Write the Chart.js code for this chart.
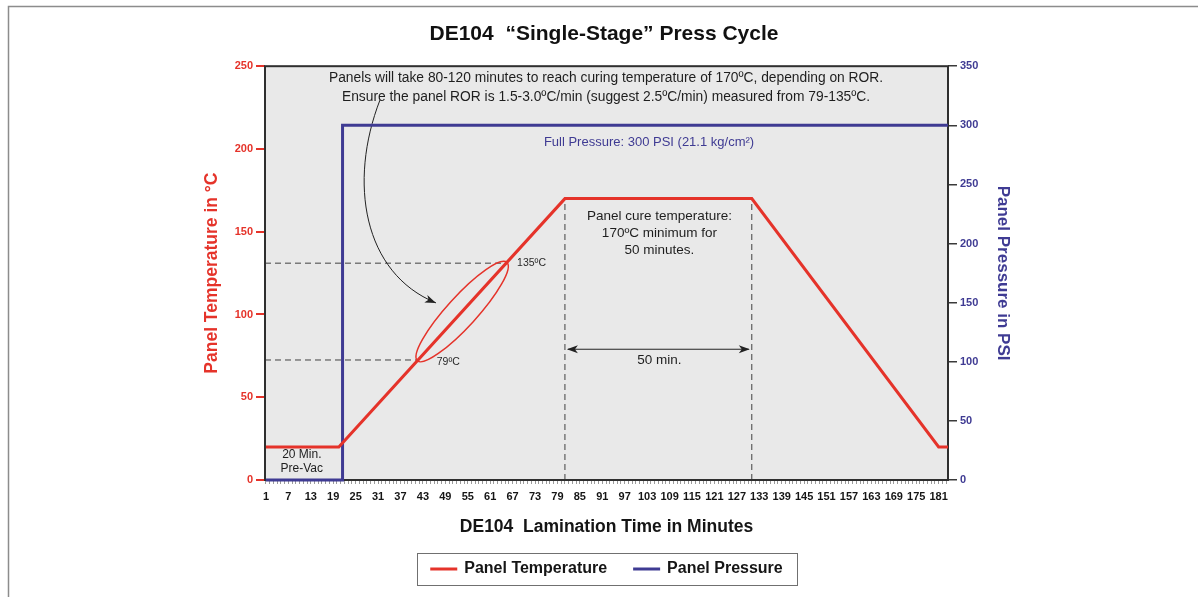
<!DOCTYPE html>
<html>
<head>
<meta charset="utf-8">
<script src="https://cdn.jsdelivr.net/npm/chart.js@4/dist/chart.umd.min.js"></script>
<style>
  html, body { margin: 0; padding: 0; background: #fff; }
</style>
</head>
<body>
<canvas id="grafico" width="1198" height="597"></canvas>
<script>
// datos
const minutosTemp = [1, 20.5, 81, 131, 181, 183.5];
const temperatura = [20, 20, 170, 170, 20, 20];
const minutosPresion = [1, 21.5, 21.5, 183.5];
const presion = [0, 0, 300, 300];
const etiquetasTiempo = [1, 7, 13, 19, 25, 31, 37, 43, 49, 55, 61, 67, 73, 79, 85, 91, 97, 103, 109, 115, 121, 127, 133, 139, 145, 151, 157, 163, 169, 175, 181];
const ticksTemp = [0, 50, 100, 150, 200, 250];
const ticksPresion = [0, 50, 100, 150, 200, 250, 300, 350];

const familia = "'Liberation Sans', Arial, sans-serif";
Chart.defaults.font.family = familia;

const rojo = '#e5332a';
const azul = '#3f3b93';

function escribir(ctx, str, x, y, font, color, align) {
    ctx.font = font;
    ctx.fillStyle = color;
    ctx.textAlign = align || 'center';
    ctx.textBaseline = 'middle';
    ctx.fillText(str, x, y);
}

function linea(ctx, x1, y1, x2, y2) {
    ctx.beginPath();
    ctx.moveTo(x1, y1);
    ctx.lineTo(x2, y2);
    ctx.stroke();
}

function punta(ctx, x, y, ang) {
    ctx.save();
    ctx.translate(x, y);
    ctx.rotate(ang);
    ctx.beginPath();
    ctx.moveTo(0, 0);
    ctx.lineTo(-11, -4);
    ctx.lineTo(-8, 0);
    ctx.lineTo(-11, 4);
    ctx.closePath();
    ctx.fill();
    ctx.restore();
}

const marcoPlugin = {
    id: 'marco',
    beforeDraw(chart) {
        const {ctx, chartArea: a} = chart;
        ctx.save();
        ctx.fillStyle = '#ffffff';
        ctx.fillRect(0, 0, chart.width, chart.height);
        ctx.strokeStyle = '#8c8c8c';
        ctx.lineWidth = 1.5;
        ctx.beginPath();
        ctx.moveTo(8.5, chart.height);
        ctx.lineTo(8.5, 6.5);
        ctx.lineTo(chart.width, 6.5);
        ctx.stroke();
        ctx.fillStyle = '#e9e9e9';
        ctx.fillRect(a.left, a.top, a.right - a.left, a.bottom - a.top);
        ctx.restore();
    },
    beforeDatasetsDraw(chart) {
        const {ctx, chartArea: a} = chart;
        const {x, y, y2} = chart.scales;
        const px = v => x.getPixelForValue(v);
        const py = v => y.getPixelForValue(v);
        const pp = v => y2.getPixelForValue(v);
        const normal = s => s + "px " + familia;

        ctx.save();
        // lineas punteadas
        ctx.strokeStyle = '#404040';
        ctx.lineWidth = 1;
        ctx.setLineDash([6, 4]);
        linea(ctx, a.left, py(72.5), px(41.7), py(72.5));
        linea(ctx, a.left, py(131), px(65.3), py(131));
        linea(ctx, px(81), a.bottom, px(81), py(170));
        linea(ctx, px(131), a.bottom, px(131), py(170));
        ctx.setLineDash([]);

        // elipse 79-135
        const x1 = px(41.7), y1 = py(72.5), x2 = px(65.3), y2p = py(131);
        const largo = Math.hypot(x2 - x1, y2p - y1);
        ctx.strokeStyle = rojo;
        ctx.lineWidth = 1.5;
        ctx.beginPath();
        ctx.ellipse((x1 + x2) / 2, (y1 + y2p) / 2, largo / 2 + 1, 15, Math.atan2(y2p - y1, x2 - x1), 0, Math.PI * 2);
        ctx.stroke();

        // flecha curva
        ctx.strokeStyle = '#222';
        ctx.fillStyle = '#222';
        ctx.lineWidth = 1;
        const ini = [px(31.5), py(229.5)], c1 = [px(23), py(180)], c2 = [px(27), py(125)], fin = [px(46.5), py(107)];
        ctx.beginPath();
        ctx.moveTo(ini[0], ini[1]);
        ctx.bezierCurveTo(c1[0], c1[1], c2[0], c2[1], fin[0], fin[1]);
        ctx.stroke();
        punta(ctx, fin[0], fin[1], Math.atan2(fin[1] - c2[1], fin[0] - c2[0]));

        // flecha doble 50 min
        const ya = py(79);
        linea(ctx, px(81) + 3, ya, px(131) - 3, ya);
        punta(ctx, px(131) - 2, ya, 0);
        punta(ctx, px(81) + 2, ya, Math.PI);

        // textos
        escribir(ctx, 'Panels will take 80-120 minutes to reach curing temperature of 170ºC, depending on ROR.', px(92), py(242.8), normal(13.8), '#1e1e1e');
        escribir(ctx, 'Ensure the panel ROR is 1.5-3.0ºC/min (suggest 2.5ºC/min) measured from 79-135ºC.', px(92), py(231.3), normal(13.8), '#1e1e1e');
        escribir(ctx, 'Full Pressure: 300 PSI (21.1 kg/cm²)', px(103.5), pp(285.5), normal(13), azul);
        escribir(ctx, 'Panel cure temperature:', px(106.3), py(159.4), normal(13.5), '#1e1e1e');
        escribir(ctx, '170ºC minimum for', px(106.3), py(149.2), normal(13.5), '#1e1e1e');
        escribir(ctx, '50 minutes.', px(106.3), py(138.9), normal(13.5), '#1e1e1e');
        escribir(ctx, '50 min.', px(106.3), py(72.5), normal(13.5), '#1e1e1e');
        escribir(ctx, '135ºC', px(68.2), py(131), normal(10.5), '#2a2a2a', 'left');
        escribir(ctx, '79ºC', px(46.7), py(71.3), normal(10.5), '#2a2a2a', 'left');
        escribir(ctx, '20 Min.', px(10.6), py(15.1), normal(12), '#1e1e1e');
        escribir(ctx, 'Pre-Vac', px(10.6), py(6.6), normal(12), '#1e1e1e');

        // borde del area
        ctx.strokeStyle = '#2f2f2f';
        ctx.lineWidth = 2;
        ctx.strokeRect(a.left, a.top, a.right - a.left, a.bottom - a.top);
        ctx.restore();
    },
    afterDraw(chart) {
        const {ctx, chartArea: a} = chart;
        const fuente = "bold 16px " + familia;
        ctx.save();
        ctx.font = fuente;
        const items = chart.data.datasets.map(d => ({texto: d.label, color: d.borderColor, ancho: ctx.measureText(d.label).width}));
        const muestra = 27, hueco = 7, separacion = 26;
        let total = 0;
        items.forEach((it, i) => { total += muestra + hueco + it.ancho + (i ? separacion : 0); });
        let xi = (a.left + a.right) / 2 - total / 2;
        const yc = chart.height - 28;
        ctx.strokeStyle = '#707070';
        ctx.lineWidth = 1;
        ctx.strokeRect(Math.round(xi - 13) + 0.5, Math.round(yc - 16) + 0.5, Math.round(total + 28), 32);
        items.forEach(it => {
            ctx.strokeStyle = it.color;
            ctx.lineWidth = 3;
            linea(ctx, xi, yc, xi + muestra, yc);
            xi += muestra + hueco;
            escribir(ctx, it.texto, xi, yc, fuente, '#151515', 'left');
            xi += it.ancho + separacion;
        });
        ctx.restore();
    }
};

new Chart(document.getElementById("grafico"), {
    type: "line",
    data: {
        datasets: [
            {
                label: "Panel Temperature",
                data: minutosTemp.map((m, i) => ({x: m, y: temperatura[i]})),
                borderColor: rojo,
                borderWidth: 3,
                pointRadius: 0,
                yAxisID: "y",
                clip: false
            },
            {
                label: "Panel Pressure",
                data: minutosPresion.map((m, i) => ({x: m, y: presion[i]})),
                borderColor: azul,
                borderWidth: 3,
                pointRadius: 0,
                yAxisID: "y2",
                clip: false
            }
        ]
    },
    options: {
        responsive: false,
        animation: false,
        events: [],
        layout: { padding: { left: 190, right: 180, top: 10, bottom: 55 } },
        plugins: {
            legend: { display: false },
            tooltip: { enabled: false },
            title: {
                display: true,
                text: "DE104  “Single-Stage” Press Cycle",
                color: "#111",
                font: { size: 21, weight: "bold" },
                padding: { top: 12, bottom: 19 }
            }
        },
        scales: {
            x: {
                type: "linear",
                min: 0.75,
                max: 183.5,
                afterBuildTicks: s => {
                    s.ticks = [];
                    for (let m = 1; m <= 183; m++) s.ticks.push({value: m});
                },
                afterFit: s => { s.height = 62; },
                grid: { drawOnChartArea: false, tickLength: 4, color: "#9a9a9a", lineWidth: 1 },
                border: { display: false },
                ticks: {
                    autoSkip: false,
                    maxRotation: 0,
                    minRotation: 0,
                    padding: 6,
                    color: "#151515",
                    font: { size: 11, weight: "bold" },
                    callback: v => etiquetasTiempo.includes(v) ? String(v) : ""
                },
                title: {
                    display: true,
                    text: "DE104  Lamination Time in Minutes",
                    color: "#151515",
                    font: { size: 17.5, weight: "bold" },
                    padding: { top: 0, bottom: 4 }
                }
            },
            y: {
                position: "left",
                min: 0,
                max: 250,
                afterBuildTicks: s => { s.ticks = ticksTemp.map(v => ({value: v})); },
                afterFit: s => { s.width = 75; },
                grid: { drawOnChartArea: false, tickLength: 9, color: rojo, lineWidth: 2 },
                border: { display: false },
                ticks: { color: rojo, padding: 3, font: { size: 11, weight: "bold" } },
                title: {
                    display: true,
                    text: "Panel Temperature in °C",
                    color: rojo,
                    font: { size: 17.5, weight: "bold" },
                    padding: { top: 12, bottom: 0 }
                }
            },
            y2: {
                position: "right",
                min: 0,
                max: 350,
                afterBuildTicks: s => { s.ticks = ticksPresion.map(v => ({value: v})); },
                afterFit: s => { s.width = 70; },
                grid: { drawOnChartArea: false, tickLength: 9, color: "#3a3a3a", lineWidth: 1.5 },
                border: { display: false },
                ticks: { color: azul, padding: 3, font: { size: 11, weight: "bold" } },
                title: {
                    display: true,
                    text: "Panel Pressure in PSI",
                    color: azul,
                    font: { size: 17, weight: "bold" },
                    padding: { top: 5, bottom: 0 }
                }
            }
        }
    },
    plugins: [marcoPlugin]
});
</script>
</body>
</html>
